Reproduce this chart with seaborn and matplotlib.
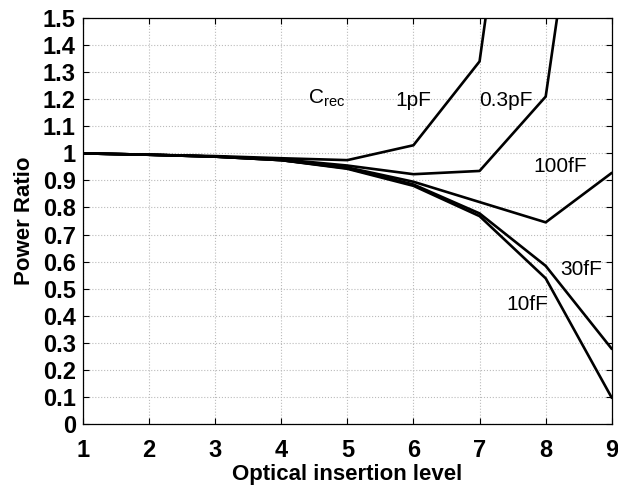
import pandas as pd
import seaborn as sns
import matplotlib.pyplot as plt

# Optical insertion level vs. power ratio for several receiver capacitances
levels = [1, 2, 3, 4, 5, 6, 7, 8, 9]
c_1pF = [1.0, 0.995, 0.99, 0.982, 0.975, 1.03, 1.34, 3.1, 4.9]
c_03pF = [1.0, 0.995, 0.988, 0.978, 0.955, 0.923, 0.935, 1.21, 2.9]
c_100fF = [1.0, 0.995, 0.988, 0.975, 0.948, 0.895, 0.82, 0.745, 0.928]
c_30fF = [1.0, 0.995, 0.988, 0.975, 0.945, 0.885, 0.778, 0.584, 0.277]
c_10fF = [1.0, 0.995, 0.988, 0.975, 0.943, 0.88, 0.768, 0.538, 0.096]
names = ["1pF", "0.3pF", "100fF", "30fF", "10fF"]

rows = []
for name, vals in zip(names, [c_1pF, c_03pF, c_100fF, c_30fF, c_10fF]):
    for x, v in zip(levels, vals):
        rows.append({"level": x, "ratio": v, "Crec": name})
df = pd.DataFrame(rows)

sns.set_style("ticks")
plt.rcParams["font.family"] = ["Liberation Sans", "DejaVu Sans"]
plt.rcParams["mathtext.fontset"] = "custom"
plt.rcParams["mathtext.rm"] = "Liberation Sans"
plt.rcParams["text.color"] = "black"
plt.rcParams["axes.labelcolor"] = "black"
plt.rcParams["xtick.color"] = "black"
plt.rcParams["ytick.color"] = "black"

fig = plt.figure(figsize=(6.18, 4.90), dpi=100)
ax = fig.add_axes([0.134, 0.135, 0.856, 0.828])

sns.lineplot(data=df, x="level", y="ratio", hue="Crec", palette=["black"] * 5,
             linewidth=1.9, legend=False, ax=ax)

ax.set_xlim(1, 9)
ax.set_ylim(0, 1.5)
ax.set_xticks(levels)
yt = [i / 10 for i in range(16)]
ax.set_yticks(yt)
ax.set_yticklabels(["0" if v == 0 else ("1" if v == 1 else f"{v:.1f}") for v in yt])
ax.grid(True, color="#bbbbbb", linestyle=":", linewidth=0.8)
ax.tick_params(direction="in", top=True, right=True, length=4, width=0.8,
               labelsize=17)
ax.tick_params(axis="x", pad=11)
ax.tick_params(axis="y", pad=5)
for lab in ax.get_xticklabels() + ax.get_yticklabels():
    lab.set_fontweight("bold")
for s in ax.spines.values():
    s.set_linewidth(0.9)
    s.set_color("black")

ax.set_xlabel("Optical insertion level", fontsize=16, fontweight="bold", labelpad=1)
ax.set_ylabel("Power Ratio", fontsize=16, fontweight="bold", labelpad=6)

tk = dict(fontsize=15, ha="left", va="center", color="black")
ax.text(4.40, 1.205, r"C$_{\mathrm{rec}}$", **tk)
ax.text(5.72, 1.197, "1pF", **tk)
ax.text(7.0, 1.197, "0.3pF", **tk)
ax.text(7.81, 0.95, "100fF", **tk)
ax.text(8.22, 0.569, "30fF", **tk)
ax.text(7.41, 0.44, "10fF", **tk)

fig.savefig("out.png", dpi=100)
